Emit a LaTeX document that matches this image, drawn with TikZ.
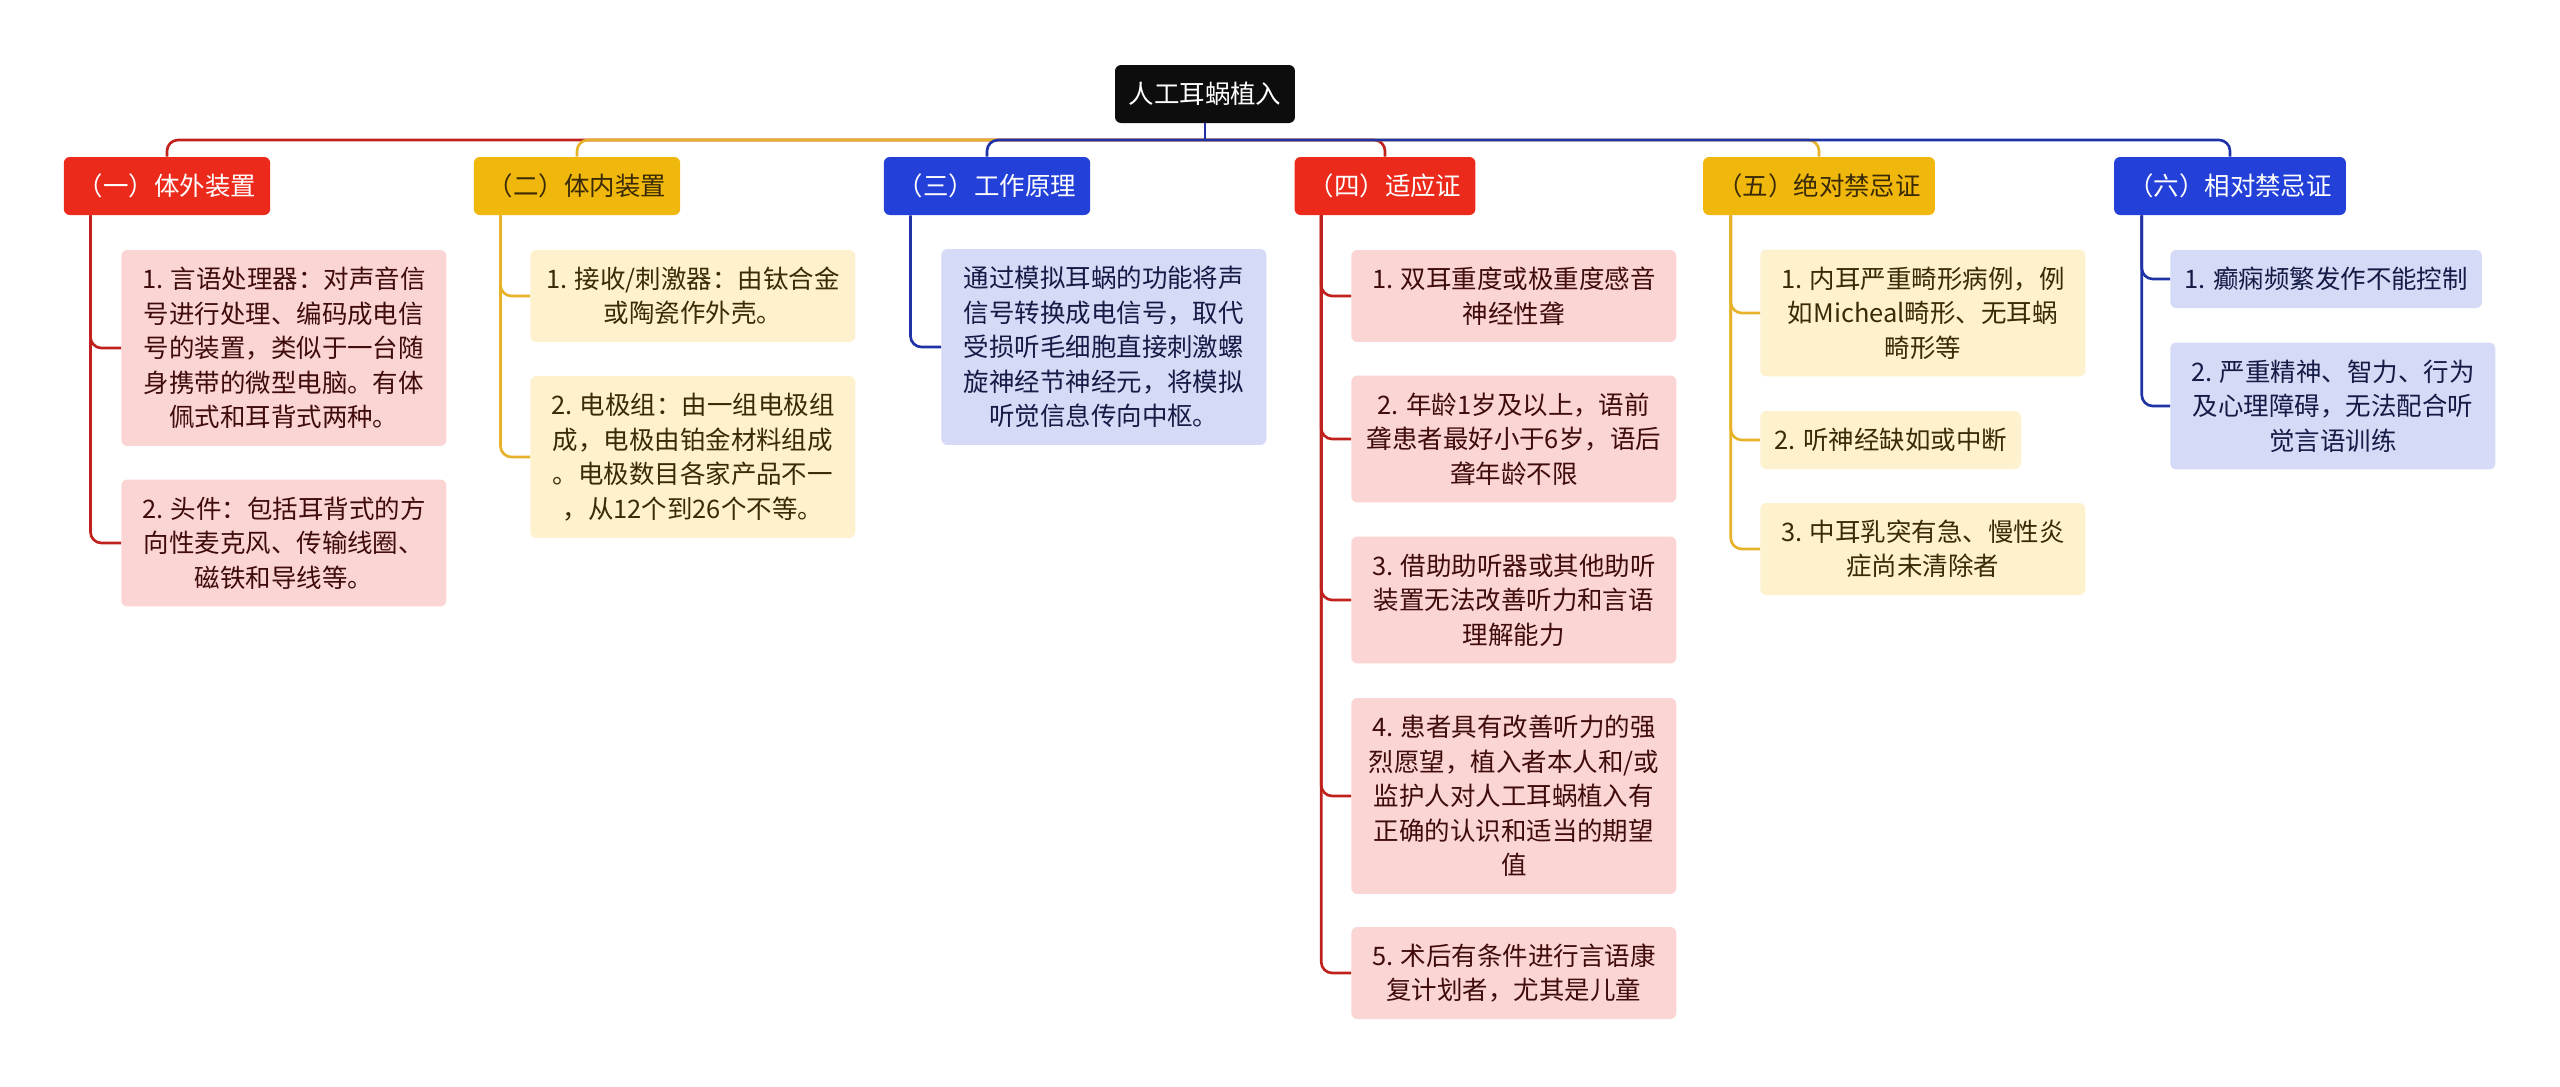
\documentclass[tikz,border=0pt]{standalone}
\usepackage{fontspec}
\setmainfont{Noto Sans CJK SC}
\usepackage{tikz}
\usetikzlibrary{positioning}

\definecolor{rootblk}{HTML}{0D0D0D}
\definecolor{hdred}{HTML}{EC2A1C}
\definecolor{hdyel}{HTML}{F0B70D}
\definecolor{hdblu}{HTML}{2340D8}
\definecolor{lnred}{HTML}{C0211C}
\definecolor{lnyel}{HTML}{E5B22A}
\definecolor{lnblu}{HTML}{1F32A6}
\definecolor{ltred}{HTML}{FBD5D3}
\definecolor{ltyel}{HTML}{FDF2CD}
\definecolor{ltblu}{HTML}{D5DAF7}
\definecolor{txred}{HTML}{3F0B0B}
\definecolor{txyel}{HTML}{3A2A05}
\definecolor{txblu}{HTML}{141B45}

\begin{document}
\begin{tikzpicture}[x=0.02cm,y=-0.02cm,
    every node/.style={font=\fontsize{14.5pt}{19.6pt}\selectfont, rounded corners=0.12cm, inner sep=0pt},
    root/.style={fill=rootblk, text=white, minimum width=3.6cm, minimum height=1.16cm},
    head/.style={minimum height=1.16cm, inner xsep=0.28cm},
    redhd/.style={head, fill=hdred, text=white},
    yelhd/.style={head, fill=hdyel, text=txyel},
    bluhd/.style={head, fill=hdblu, text=white},
    kid/.style={align=center, anchor=west, minimum width=6.5cm, inner xsep=0.28cm},
    redkid/.style={kid, fill=ltred, text=txred},
    yelkid/.style={kid, fill=ltyel, text=txyel},
    blukid/.style={kid, fill=ltblu, text=txblu},
    l1/.style={minimum height=1.16cm},
    l2/.style={minimum height=1.84cm},
    l3/.style={minimum height=2.54cm},
    l4/.style={minimum height=3.24cm},
    l5/.style={minimum height=3.92cm},
    link/.style={line width=1.5pt, rounded corners=0.22cm},
    redln/.style={link, draw=lnred},
    yelln/.style={link, draw=lnyel},
    bluln/.style={link, draw=lnblu}]
    \fill[white] (0,0) rectangle (2560,1086);
    \useasboundingbox (0,0) rectangle (2560,1086);

    \node[root] (root) at (1205,94) {人工耳蜗植入};
    \coordinate (bus) at (1205,140);

    \node[redhd] (h1) at (167,186) {（一）体外装置};
    \node[yelhd] (h2) at (577,186) {（二）体内装置};
    \node[bluhd] (h3) at (987,186) {（三）工作原理};
    \node[redhd] (h4) at (1385,186) {（四）适应证};
    \node[yelhd] (h5) at (1819,186) {（五）绝对禁忌证};
    \node[bluhd] (h6) at (2230,186) {（六）相对禁忌证};

    \node[redkid,l5] (a1) at (121,348) {1. 言语处理器：对声音信\\号进行处理、编码成电信\\号的装置，类似于一台随\\身携带的微型电脑。有体\\佩式和耳背式两种。};
    \node[redkid,l3] (a2) at (121,543) {2. 头件：包括耳背式的方\\向性麦克风、传输线圈、\\磁铁和导线等。};

    \node[yelkid,l2] (b1) at (530,296) {1. 接收/刺激器：由钛合金\\或陶瓷作外壳。};
    \node[yelkid,l4] (b2) at (530,457) {2. 电极组：由一组电极组\\成，电极由铂金材料组成\\。电极数目各家产品不一\\，从12个到26个不等。};

    \node[blukid,l5] (c1) at (941,347) {通过模拟耳蜗的功能将声\\信号转换成电信号，取代\\受损听毛细胞直接刺激螺\\旋神经节神经元，将模拟\\听觉信息传向中枢。};

    \node[redkid,l2] (d1) at (1351,296) {1. 双耳重度或极重度感音\\神经性聋};
    \node[redkid,l3] (d2) at (1351,439) {2. 年龄1岁及以上，语前\\聋患者最好小于6岁，语后\\聋年龄不限};
    \node[redkid,l3] (d3) at (1351,600) {3. 借助助听器或其他助听\\装置无法改善听力和言语\\理解能力};
    \node[redkid,l5] (d4) at (1351,796) {4. 患者具有改善听力的强\\烈愿望，植入者本人和/或\\监护人对人工耳蜗植入有\\正确的认识和适当的期望\\值};
    \node[redkid,l2] (d5) at (1351,973) {5. 术后有条件进行言语康\\复计划者，尤其是儿童};

    \node[yelkid,l3] (e1) at (1760,313) {1. 内耳严重畸形病例，例\\如Micheal畸形、无耳蜗\\畸形等};
    \node[yelkid,l1,minimum width=0pt] (e2) at (1760,440) {2. 听神经缺如或中断};
    \node[yelkid,l2] (e3) at (1760,549) {3. 中耳乳突有急、慢性炎\\症尚未清除者};

    \node[blukid,l1,minimum width=0pt] (f1) at (2170,279) {1. 癫痫频繁发作不能控制};
    \node[blukid,l3] (f2) at (2170,406) {2. 严重精神、智力、行为\\及心理障碍，无法配合听\\觉言语训练};

    \draw[redln] (bus) -| (h1.north);
    \draw[yelln] (bus) -| (h2.north);
    \draw[bluln] (bus) -| (h3.north);
    \draw[redln] (bus) -| (h4.north);
    \draw[yelln] (bus) -| (h5.north);
    \draw[bluln] (bus) -| (h6.north);
    \draw[bluln] (root.south) -- (bus);

    \draw[redln] ([xshift=0.54cm]h1.south west) |- (a1.west);
    \draw[redln] ([xshift=0.54cm]h1.south west) |- (a2.west);
    \draw[yelln] ([xshift=0.54cm]h2.south west) |- (b1.west);
    \draw[yelln] ([xshift=0.54cm]h2.south west) |- (b2.west);
    \draw[bluln] ([xshift=0.54cm]h3.south west) |- (c1.west);
    \draw[redln] ([xshift=0.54cm]h4.south west) |- (d1.west);
    \draw[redln] ([xshift=0.54cm]h4.south west) |- (d2.west);
    \draw[redln] ([xshift=0.54cm]h4.south west) |- (d3.west);
    \draw[redln] ([xshift=0.54cm]h4.south west) |- (d4.west);
    \draw[redln] ([xshift=0.54cm]h4.south west) |- (d5.west);
    \draw[yelln] ([xshift=0.56cm]h5.south west) |- (e1.west);
    \draw[yelln] ([xshift=0.56cm]h5.south west) |- (e2.west);
    \draw[yelln] ([xshift=0.56cm]h5.south west) |- (e3.west);
    \draw[bluln] ([xshift=0.56cm]h6.south west) |- (f1.west);
    \draw[bluln] ([xshift=0.56cm]h6.south west) |- (f2.west);
\end{tikzpicture}
\end{document}
